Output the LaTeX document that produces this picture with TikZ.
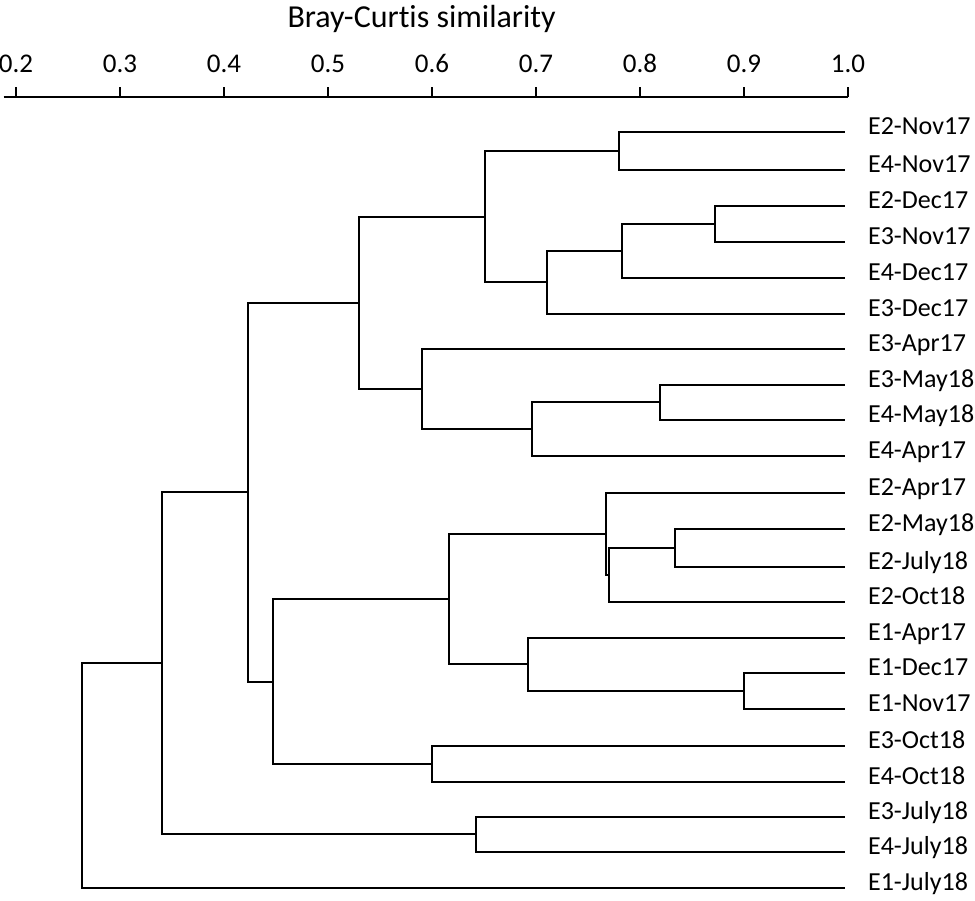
\documentclass[tikz,border=0pt]{standalone}
\usepackage{fontspec}
\setmainfont{Carlito}[Ligatures=NoCommon]

\tikzset{
  branch/.style={line width=2pt},
  axisline/.style={line width=2.2pt},
  leaf/.style={anchor=base west, inner sep=0pt, font=\fontsize{26}{30}\selectfont},
  ticklabel/.style={anchor=base, inner sep=0pt, font=\fontsize{27}{30}\selectfont},
  axistitle/.style={anchor=base, inner sep=0pt, font=\fontsize{32}{36}\selectfont}
}

\begin{document}
\begin{tikzpicture}[x=1040pt, y=-1pt]
    \useasboundingbox (0.1846,0) rectangle (1.1221,900);

    \node[axistitle] (title) at (0.590,27) {Bray-Curtis similarity};
    \draw[axisline] (0.188,97) -- (1,97);
    \foreach \v [count=\k] in {0.2,0.3,0.4,0.5,0.6,0.7,0.8,0.9,1.0} {
        \draw[axisline] (\v,97) -- (\v,87);
        \node[ticklabel] (tick\k) at (\v,72) {\v};
    }

    \foreach \y/\name [count=\k] in {132/E2-Nov17, 170/E4-Nov17, 206/E2-Dec17, 242/E3-Nov17,
        278/E4-Dec17, 314/E3-Dec17, 349/E3-Apr17, 385/E3-May18, 420/E4-May18, 456/E4-Apr17,
        493/E2-Apr17, 529/E2-May18, 567/E2-July18, 602/E2-Oct18, 638/E1-Apr17, 673/E1-Dec17,
        709/E1-Nov17, 746/E3-Oct18, 782/E4-Oct18, 817/E3-July18, 852/E4-July18, 888/E1-July18} {
        \coordinate (e\k) at (0.997,\y);
        \node[leaf] (l\k) at ([xshift=23pt, yshift=-2pt]e\k) {\name};
    }

    \coordinate (n1) at (0.780,151);
    \coordinate (n2) at (0.872,224);
    \coordinate (n3) at (0.783,251);
    \coordinate (n4) at (0.711,282);
    \coordinate (n5) at (0.651,217);
    \coordinate (n6) at (0.819,402);
    \coordinate (n7) at (0.696,429);
    \coordinate (n8) at (0.590,389);
    \coordinate (n9) at (0.530,303);
    \coordinate (n10) at (0.834,548);
    \coordinate (n11) at (0.770,575);
    \coordinate (n12) at (0.767,534);
    \coordinate (n13) at (0.900,691);
    \coordinate (n14) at (0.692,664);
    \coordinate (n15) at (0.616,599);
    \coordinate (n16) at (0.600,764);
    \coordinate (n17) at (0.447,682);
    \coordinate (n18) at (0.423,492);
    \coordinate (n19) at (0.642,834);
    \coordinate (n20) at (0.340,663);
    \coordinate (n21) at (0.2635,776);

    \draw[branch] (e1) -| (n1) |- (e2);
    \draw[branch] (e3) -| (n2) |- (e4);
    \draw[branch] (n2) -| (n3) |- (e5);
    \draw[branch] (n3) -| (n4) |- (e6);
    \draw[branch] (n1) -| (n5) |- (n4);
    \draw[branch] (e8) -| (n6) |- (e9);
    \draw[branch] (n6) -| (n7) |- (e10);
    \draw[branch] (e7) -| (n8) |- (n7);
    \draw[branch] (n5) -| (n9) |- (n8);
    \draw[branch] (e12) -| (n10) |- (e13);
    \draw[branch] (n10) -| (n11) |- (e14);
    \draw[branch] (e11) -| (n12) |- (n11);
    \draw[branch] (e16) -| (n13) |- (e17);
    \draw[branch] (e15) -| (n14) |- (n13);
    \draw[branch] (n12) -| (n15) |- (n14);
    \draw[branch] (e18) -| (n16) |- (e19);
    \draw[branch] (n15) -| (n17) |- (n16);
    \draw[branch] (n9) -| (n18) |- (n17);
    \draw[branch] (e20) -| (n19) |- (e21);
    \draw[branch] (n18) -| (n20) |- (n19);
    \draw[branch] (n20) -| (n21) |- (e22);
\end{tikzpicture}
\end{document}
